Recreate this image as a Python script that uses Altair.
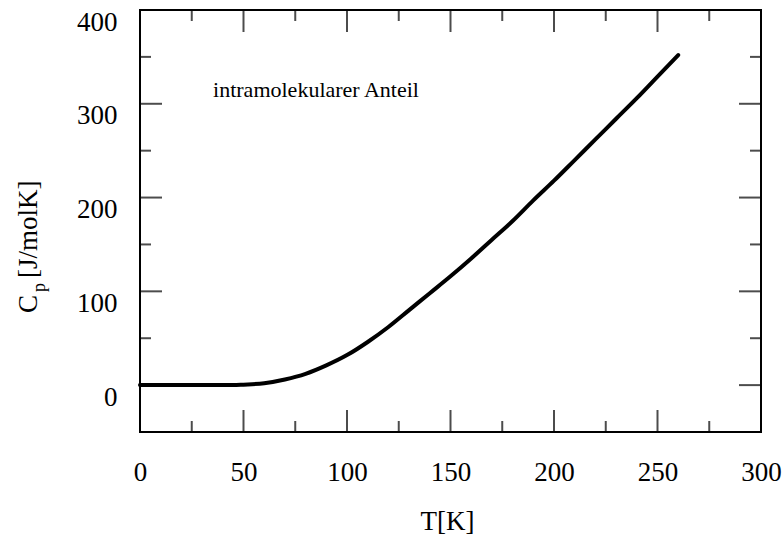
import altair as alt
import pandas as pd

# Intramolecular heat capacity contribution vs temperature
temperature = [0, 20, 40, 45, 50, 60, 70, 80, 90, 100, 110, 120, 130, 140,
               150, 160, 170, 180, 190, 200, 210, 220, 230, 240, 250, 260]
heat_capacity = [0, 0, 0, 0, 0.5, 2, 6, 12, 21, 32, 46, 62, 80, 98,
                 116, 135, 155, 175, 197, 218, 240, 262, 284, 306, 329, 352]

x_label_values = [0, 50, 100, 150, 200, 250, 300]
y_label_values = [0, 100, 200, 300, 400]
x_major = [50, 100, 150, 200, 250]
x_minor = [25, 75, 125, 175, 225, 275]
y_major = [0, 100, 200, 300]
y_minor = [50, 150, 250, 350]

T_MIN, T_MAX = 0, 300
CP_MIN, CP_MAX = -50, 400
FONT = "Liberation Serif"

xs = alt.Scale(domain=[T_MIN, T_MAX], nice=False, zero=False)
ys = alt.Scale(domain=[CP_MIN, CP_MAX], nice=False, zero=False)

x_axis = alt.Axis(
    values=x_label_values, format="d", ticks=False, tickSize=0,
    domain=False, grid=False, labelFlush=False, labelOverlap=False,
    labelFont=FONT, labelFontSize=27, labelColor="black", labelPadding=27,
    title="T[K]", titleFont=FONT, titleFontSize=27, titleFontWeight="normal",
    titleColor="black", titleBaseline="alphabetic", titleX=307, titleY=97,
)
y_axis = alt.Axis(
    values=y_label_values, format="d", ticks=False, tickSize=0,
    domain=False, grid=False, labelFlush=False, labelOverlap=False,
    labelFont=FONT, labelFontSize=27, labelColor="black", labelPadding=23,
    labelOffset=12, title="",
)


def xenc():
    return alt.X("T:Q", scale=xs, axis=x_axis)


def yenc():
    return alt.Y("Cp:Q", scale=ys, axis=y_axis)


curve_df = pd.DataFrame({"T": temperature, "Cp": heat_capacity})

curve = alt.Chart(curve_df).mark_line(
    color="black", strokeWidth=4, strokeCap="round", interpolate="monotone"
).encode(x=xenc(), y=yenc())


def vertical_ticks(values, at, length, direction):
    df = pd.DataFrame({"T": values, "Cp": [at] * len(values)})
    return alt.Chart(df).mark_tick(
        orient="vertical", size=length, thickness=2, color="black",
        yOffset=direction * length / 2,
    ).encode(x=xenc(), y=yenc())


def horizontal_ticks(values, at, length, direction):
    df = pd.DataFrame({"T": [at] * len(values), "Cp": values})
    return alt.Chart(df).mark_tick(
        orient="horizontal", size=length, thickness=2, color="black",
        xOffset=direction * length / 2,
    ).encode(x=xenc(), y=yenc())


MAJOR, MINOR = 22, 11
tick_layers = [
    vertical_ticks(x_major, CP_MIN, MAJOR, -1),
    vertical_ticks(x_minor, CP_MIN, MINOR, -1),
    vertical_ticks(x_major, CP_MAX, MAJOR, 1),
    vertical_ticks(x_minor, CP_MAX, MINOR, 1),
    horizontal_ticks(y_major, T_MIN, MAJOR, 1),
    horizontal_ticks(y_minor, T_MIN, MINOR, 1),
    horizontal_ticks(y_major, T_MAX, MAJOR, -1),
    horizontal_ticks(y_minor, T_MAX, MINOR, -1),
]

note_df = pd.DataFrame({"T": [35.3], "Cp": [307], "label": ["intramolekularer Anteil"]})
note = alt.Chart(note_df).mark_text(
    font=FONT, fontSize=22, color="black", align="left", baseline="alphabetic"
).encode(x=xenc(), y=yenc(), text="label:N")

# y-axis title built from pieces so that "p" can sit as a subscript
title_df = pd.DataFrame({"piece": ["C"]})


def title_piece(text, x, y, size):
    return alt.Chart(title_df).mark_text(
        text=text, font=FONT, fontSize=size, color="black", angle=270,
        align="left", baseline="alphabetic",
    ).encode(x=alt.value(x), y=alt.value(y))


y_title = [
    title_piece("C", -103, 303, 27),
    title_piece("p", -95, 282, 18),
    title_piece("[J/molK]", -103, 268, 27),
]

chart = alt.layer(curve, *tick_layers, note, *y_title).properties(
    width=621,
    height=422,
    autosize="none",
    padding={"left": 140, "top": 10, "right": 23, "bottom": 105},
    background="white",
).configure_view(stroke="black", strokeWidth=2)

chart.save("out.html", embed_options={"renderer": "svg", "actions": False})
